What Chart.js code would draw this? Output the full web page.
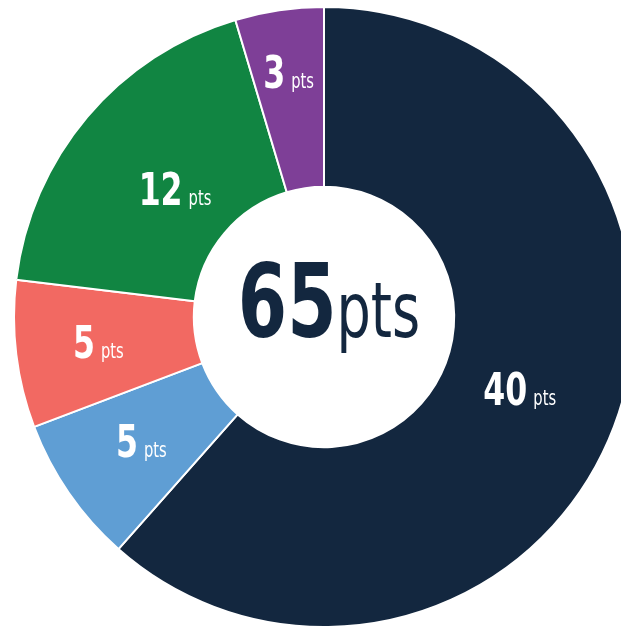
<!DOCTYPE html>
<html>
<head>
<meta charset="utf-8">
<script src="https://cdn.jsdelivr.net/npm/chart.js@4/dist/chart.umd.min.js"></script>
<style>
    html, body { margin: 0; padding: 0; background: #ffffff; overflow: hidden; }
    #wrap { position: absolute; left: 0; top: 0; width: 648px; height: 634px; }
</style>
</head>
<body>
<div id="wrap"><canvas id="pointsChart" width="648" height="634"></canvas></div>
<script>
const categories = ['Part A', 'Part B', 'Part C', 'Part D', 'Part E'];
const points = [40, 5, 5, 12, 3];
const sliceColors = ['#13273f', '#5f9ed4', '#f26962', '#118542', '#7e3f97'];
const unitLabel = 'pts';

const FONT = '"DejaVu Sans Condensed", "Liberation Sans Narrow", sans-serif';
const SQUEEZE = 0.78; // narrow the text horizontally, the original face is condensed
const total = points.reduce((a, b) => a + b, 0);

// text made of a bold number and a small unit, sharing a baseline
function drawPair(ctx, cx, base, num, numFont, unit, unitFont, gap, color) {
    ctx.font = numFont;
    const wNum = ctx.measureText(num).width * SQUEEZE;
    ctx.font = unitFont;
    const wUnit = ctx.measureText(unit).width * SQUEEZE;
    const x0 = cx - (wNum + gap + wUnit) / 2;
    ctx.fillStyle = color;
    ctx.save();
    ctx.translate(x0, base);
    ctx.scale(SQUEEZE, 1);
    ctx.font = numFont;
    ctx.fillText(num, 0, 0);
    ctx.font = unitFont;
    ctx.fillText(unit, (wNum + gap) / SQUEEZE, 0);
    ctx.restore();
}

const labelPlugin = {
    id: 'sliceLabels',
    afterDatasetsDraw(chart, args, opts) {
        const ctx = chart.ctx;
        const meta = chart.getDatasetMeta(0);
        ctx.save();
        ctx.textBaseline = 'alphabetic';
        ctx.textAlign = 'left';

        meta.data.forEach((arc, i) => {
            const mid = (arc.startAngle + arc.endAngle) / 2;
            const depth = opts.depth[i];
            const r = arc.innerRadius + (arc.outerRadius - arc.innerRadius) * depth;
            const x = arc.x + Math.cos(mid) * r;
            const y = arc.y + Math.sin(mid) * r;
            drawPair(ctx, x, y + 14, String(points[i]), 'bold 45px ' + FONT,
                unitLabel, '21px ' + FONT, 6, '#ffffff');
        });

        const c = meta.data[0];
        drawPair(ctx, c.x + 5, c.y + 20, String(total), 'bold 101px ' + FONT,
            unitLabel, '77px ' + FONT, 0, '#13273f');
        ctx.restore();
    }
};

const ctx = document.getElementById('pointsChart').getContext('2d');
new Chart(ctx, {
    type: 'doughnut',
    data: {
        labels: categories,
        datasets: [{
            data: points,
            backgroundColor: sliceColors,
            borderColor: '#ffffff',
            borderWidth: 2
        }]
    },
    options: {
        responsive: false,
        animation: false,
        radius: 310,
        cutout: '42%',
        layout: { padding: 0 },
        plugins: {
            legend: { display: false },
            tooltip: { enabled: false },
            sliceLabels: { depth: [0.44, 0.51, 0.54, 0.36, 0.64] }
        }
    },
    plugins: [labelPlugin]
});
</script>
</body>
</html>
